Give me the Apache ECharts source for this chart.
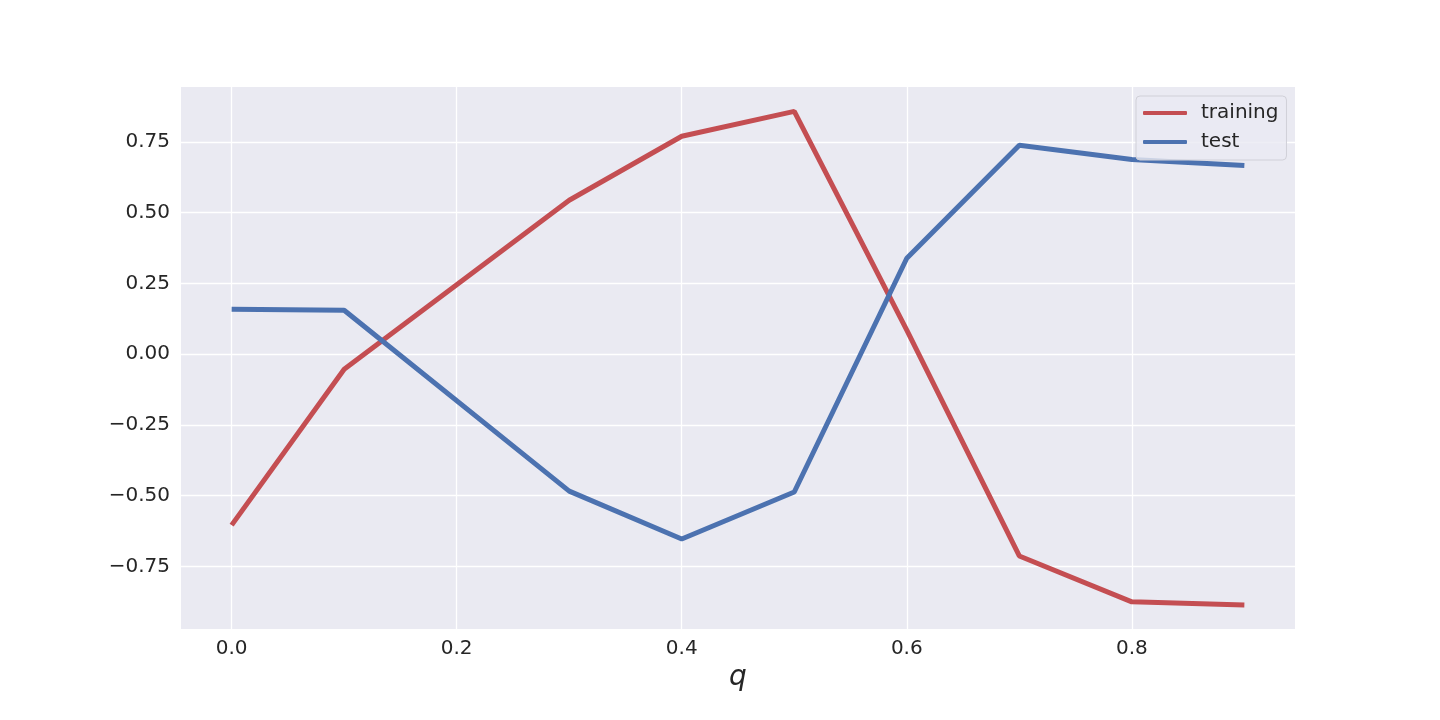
<!DOCTYPE html>
<html>
<head>
<meta charset="utf-8">
<script src="https://cdn.jsdelivr.net/npm/echarts@6/dist/echarts.min.js"></script>
<style>html,body{margin:0;padding:0;background:#fff;}#c{width:1440px;height:720px;}</style>
</head>
<body>
<div id="c"></div>
<script>
const qValues = [0.0, 0.1, 0.3, 0.4, 0.5, 0.6, 0.7, 0.8, 0.9];
const trainingValues = [-0.604, -0.053, 0.544, 0.770, 0.858, 0.085, -0.713, -0.875, -0.886];
const testValues = [0.159, 0.155, -0.484, -0.653, -0.487, 0.339, 0.738, 0.688, 0.667];
const xTicks = [0.0, 0.2, 0.4, 0.6, 0.8];
const yTicks = [-0.75, -0.5, -0.25, 0.0, 0.25, 0.5, 0.75];
const seriesNames = ['training', 'test'];

const font = 'DejaVu Sans';
const textColor = '#262626';
const chart = echarts.init(document.getElementById('c'), null, {renderer: 'canvas'});
const fmtY = v => (v < 0 ? '\u2212' : '') + Math.abs(v).toFixed(2);
const fmtX = v => v.toFixed(1);

chart.setOption({
  animation: false,
  backgroundColor: '#ffffff',
  grid: {left: 181, top: 87, right: 145, bottom: 91, show: true, backgroundColor: '#EAEAF2', borderWidth: 0},
  xAxis: {
    type: 'value', min: -0.045, max: 0.945,
    name: 'q', nameLocation: 'middle', nameGap: 32,
    nameTextStyle: {fontFamily: font, fontStyle: 'italic', fontSize: 28, color: textColor},
    axisLine: {show: false}, axisTick: {show: false, customValues: xTicks},
    axisLabel: {customValues: xTicks, formatter: fmtX, fontFamily: font, fontSize: 20, color: textColor, margin: 10},
    splitLine: {show: true, lineStyle: {color: '#ffffff', width: 1.3}}
  },
  yAxis: {
    type: 'value', min: -0.971, max: 0.944,
    axisLine: {show: false}, axisTick: {show: false, customValues: yTicks},
    axisLabel: {customValues: yTicks, formatter: fmtY, fontFamily: font, fontSize: 20, color: textColor, margin: 11},
    splitLine: {show: true, lineStyle: {color: '#ffffff', width: 1.3}}
  },
  legend: {
    orient: 'vertical', left: 1136, top: 96,
    data: seriesNames,
    icon: 'roundRect', itemWidth: 44, itemHeight: 4, itemGap: 9,
    padding: [7, 8, 8, 7],
    backgroundColor: 'rgba(234,234,242,0.8)', borderColor: '#d0d0d8', borderWidth: 1, borderRadius: 4,
    textStyle: {fontFamily: font, fontSize: 20, color: textColor, lineHeight: 20, padding: [0, 0, 0, 9]}
  },
  series: [
    {name: seriesNames[0], type: 'line', symbol: 'none', color: '#C44E52',
     lineStyle: {width: 5, color: '#C44E52'},
     data: qValues.map((q, i) => [q, trainingValues[i]])},
    {name: seriesNames[1], type: 'line', symbol: 'none', color: '#4C72B0',
     lineStyle: {width: 5, color: '#4C72B0'},
     data: qValues.map((q, i) => [q, testValues[i]])}
  ]
});
</script>
</body>
</html>
